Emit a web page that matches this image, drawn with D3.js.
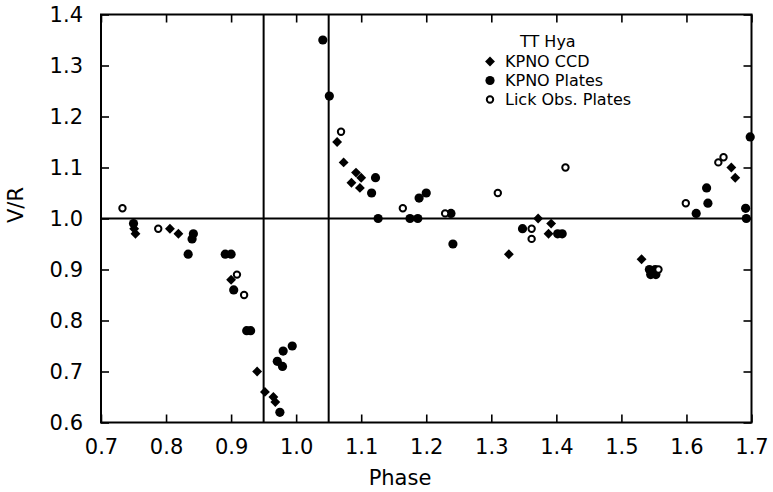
<!DOCTYPE html>
<html>
<head>
<meta charset="utf-8">
<script src="https://cdn.jsdelivr.net/npm/d3@7"></script>
<style>
  html, body { margin: 0; padding: 0; background: #fff; }
  svg { display: block; }
  text { font-family: "DejaVu Sans", "Liberation Sans", sans-serif; fill: #000; }
</style>
</head>
<body>
<svg id="chart" width="773" height="492"></svg>
<script>
// TT Hya: V/R ratio of the emission-line peaks against orbital phase

// KPNO CCD spectra (filled diamonds)
const ccdPhase = [0.751, 0.753, 0.806, 0.819, 0.900, 0.940, 0.952, 0.965, 0.968,
                  1.063, 1.073, 1.085, 1.092, 1.098, 1.100, 1.327, 1.372, 1.388, 1.392,
                  1.531, 1.669, 1.675];
const ccdVR    = [0.98, 0.97, 0.98, 0.97, 0.88, 0.70, 0.66, 0.65, 0.64,
                  1.15, 1.11, 1.07, 1.09, 1.06, 1.08, 0.93, 1.00, 0.97, 0.99,
                  0.92, 1.10, 1.08];

// KPNO photographic plates (filled circles)
const platePhase = [0.750, 0.834, 0.840, 0.842, 0.891, 0.900, 0.904, 0.924, 0.930,
                    0.971, 0.975, 0.979, 0.980, 0.994, 1.041, 1.051, 1.116, 1.122, 1.126,
                    1.175, 1.187, 1.189, 1.200, 1.238, 1.241, 1.348, 1.402, 1.409,
                    1.543, 1.552, 1.545, 1.553, 1.615, 1.631, 1.633, 1.691, 1.692, 1.698];
const plateVR    = [0.99, 0.93, 0.96, 0.97, 0.93, 0.93, 0.86, 0.78, 0.78,
                    0.72, 0.62, 0.71, 0.74, 0.75, 1.35, 1.24, 1.05, 1.08, 1.00,
                    1.00, 1.00, 1.04, 1.05, 1.01, 0.95, 0.98, 0.97, 0.97,
                    0.90, 0.90, 0.89, 0.89, 1.01, 1.06, 1.03, 1.02, 1.00, 1.16];

// Lick Observatory plates (open circles)
const lickPhase = [0.733, 0.788, 0.909, 0.920, 1.069, 1.164, 1.229, 1.310, 1.362, 1.362,
                   1.414, 1.557, 1.599, 1.649, 1.657];
const lickVR    = [1.02, 0.98, 0.89, 0.85, 1.17, 1.02, 1.01, 1.05, 0.98, 0.96,
                   1.10, 0.90, 1.03, 1.11, 1.12];

const xTicks = [0.7, 0.8, 0.9, 1.0, 1.1, 1.2, 1.3, 1.4, 1.5, 1.6, 1.7];
const yTicks = [0.6, 0.7, 0.8, 0.9, 1.0, 1.1, 1.2, 1.3, 1.4];
const refPhases = [0.95, 1.05];   // vertical guide lines
const refVR = 1.0;                 // horizontal guide line
const legendItems = ["KPNO CCD", "KPNO Plates", "Lick Obs. Plates"];

const svg = d3.select("#chart");
const plotL = 101, plotR = 751.5, plotT = 14.5, plotB = 422.5;

const x = d3.scaleLinear().domain([0.7, 1.7]).range([plotL, plotR]);
const y = d3.scaleLinear().domain([0.6, 1.4]).range([plotB, plotT]);

const fmt = d3.format(".1f");
const tickLen = 8;

// Axes with inward ticks on all four sides
const gB = svg.append("g").attr("transform", `translate(0,${plotB})`)
  .call(d3.axisBottom(x).tickValues(xTicks).tickFormat(fmt).tickSizeInner(-tickLen).tickSizeOuter(0).tickPadding(17));
const gT = svg.append("g").attr("transform", `translate(0,${plotT})`)
  .call(d3.axisTop(x).tickValues(xTicks).tickFormat("").tickSizeInner(-tickLen).tickSizeOuter(0));
const gL = svg.append("g").attr("transform", `translate(${plotL},0)`)
  .call(d3.axisLeft(y).tickValues(yTicks).tickFormat(fmt).tickSizeInner(-tickLen).tickSizeOuter(0).tickPadding(18));
const gR = svg.append("g").attr("transform", `translate(${plotR},0)`)
  .call(d3.axisRight(y).tickValues(yTicks).tickFormat("").tickSizeInner(-tickLen).tickSizeOuter(0));

[gB, gT, gL, gR].forEach(g => {
  g.select(".domain").remove();
  g.selectAll(".tick line").attr("stroke", "#000").attr("stroke-width", 1.6);
  g.selectAll(".tick text").attr("font-size", 21).attr("font-family", "DejaVu Sans, sans-serif").attr("fill", "#000");
});

// Frame
svg.append("rect")
  .attr("x", plotL).attr("y", plotT)
  .attr("width", plotR - plotL).attr("height", plotB - plotT)
  .attr("fill", "none").attr("stroke", "#000").attr("stroke-width", 2);

// Guide lines
svg.append("line")
  .attr("x1", plotL).attr("x2", plotR)
  .attr("y1", y(refVR)).attr("y2", y(refVR))
  .attr("stroke", "#000").attr("stroke-width", 1.8);
svg.selectAll(".vref").data(refPhases).enter().append("line")
  .attr("x1", d => x(d)).attr("x2", d => x(d))
  .attr("y1", plotT).attr("y2", plotB)
  .attr("stroke", "#000").attr("stroke-width", 2);

// Marker shapes
const diamond = d3.symbol().type(d3.symbolDiamond2).size(62);
function drawDiamond(sel) {
  sel.append("path").attr("d", diamond).attr("fill", "#000");
}
function drawPlate(sel) {
  sel.append("circle").attr("r", 4.6).attr("fill", "#000");
}
function drawLick(sel) {
  sel.append("circle").attr("r", 3.2).attr("fill", "#fff").attr("stroke", "#000").attr("stroke-width", 2);
}

const zipped = (ph, vr) => ph.map((p, i) => [p, vr[i]]);

svg.append("g").selectAll("g").data(zipped(platePhase, plateVR)).enter().append("g")
  .attr("transform", d => `translate(${x(d[0])},${y(d[1])})`).call(drawPlate);
svg.append("g").selectAll("g").data(zipped(ccdPhase, ccdVR)).enter().append("g")
  .attr("transform", d => `translate(${x(d[0])},${y(d[1])})`).call(drawDiamond);
svg.append("g").selectAll("g").data(zipped(lickPhase, lickVR)).enter().append("g")
  .attr("transform", d => `translate(${x(d[0])},${y(d[1])})`).call(drawLick);

// Axis titles
svg.append("text")
  .attr("x", 400).attr("y", 485)
  .attr("text-anchor", "middle").attr("font-size", 21)
  .text("Phase");
svg.append("text")
  .attr("transform", "translate(23,205) rotate(-90)")
  .attr("text-anchor", "middle").attr("font-size", 21)
  .text("V/R");

// Legend
const legend = svg.append("g");
legend.append("text").attr("x", 520).attr("y", 47).attr("font-size", 16).text("TT Hya");
const drawers = [drawDiamond, drawPlate, drawLick];
const rowY = [67, 86, 105];
legendItems.forEach((label, i) => {
  const g = legend.append("g").attr("transform", `translate(490,${rowY[i] - 5.5})`);
  drawers[i](g);
  legend.append("text").attr("x", 505).attr("y", rowY[i]).attr("font-size", 16).text(label);
});
</script>
</body>
</html>
